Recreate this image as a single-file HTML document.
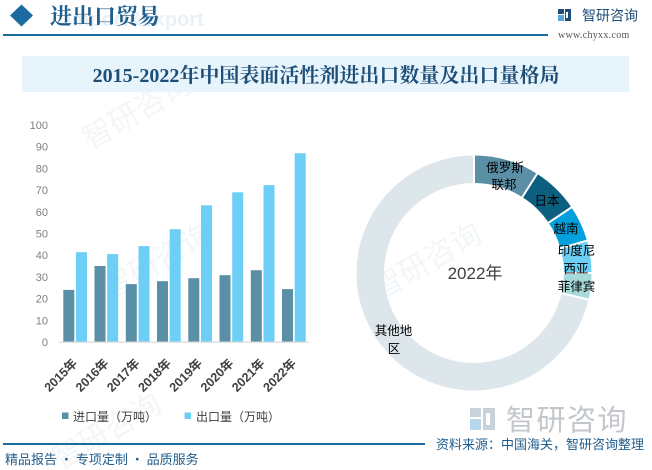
<!DOCTYPE html>
<html><head><meta charset="utf-8"><style>
html,body{margin:0;padding:0;background:#fff;}
svg{display:block;}
</style></head><body>
<svg width="652" height="470" viewBox="0 0 652 470" xmlns="http://www.w3.org/2000/svg" style="font-family:'Liberation Sans','Noto Sans CJK SC',sans-serif;">
<rect width="652" height="470" fill="#fff"/>
<!-- faint watermarks -->
<g fill="#f3f6f8" font-size="30" style="font-family:'Noto Sans CJK SC',sans-serif;">
<text x="90" y="150" transform="rotate(-30 90 150)">智研咨询</text>
<text x="110" y="300" transform="rotate(-30 110 300)">智研咨询</text>
<text x="380" y="300" transform="rotate(-30 380 300)">智研咨询</text>
<text x="60" y="470" transform="rotate(-30 60 470)">智研咨询</text>
</g>
<!-- header -->
<polygon points="21.5,4.5 33,15.5 21.5,26.5 10,15.5" fill="#1b6aa0"/>
<text x="66" y="26" font-size="20" font-weight="bold" fill="#e9f0f6">Import&amp;export</text>
<text x="50" y="24" font-size="22" font-weight="bold" fill="#1f5d8c" style="font-family:'Noto Serif CJK SC',serif;">进出口贸易</text>
<rect x="3" y="34" width="545" height="2" fill="#1b6aa0"/>
<g>
<rect x="558" y="9" width="6" height="5" fill="#1f4e79"/>
<rect x="558" y="15" width="6" height="6" fill="#5aa9dd"/>
<rect x="565" y="9" width="6" height="12" fill="#1f4e79"/>
<rect x="566" y="12" width="2" height="6" fill="#fff"/>
</g>
<text x="582" y="20.5" font-size="14" fill="#1f4e79" style="font-family:'Noto Sans CJK SC',sans-serif;">智研咨询</text>
<text x="558" y="38" font-size="10" fill="#555" letter-spacing="0.3" style="font-family:'Liberation Serif',serif;">www.chyxx.com</text>
<!-- title band -->
<rect x="22" y="56" width="607" height="36" fill="#e8f4fc"/>
<text x="326" y="82" font-size="20" font-weight="bold" fill="#1d4e78" text-anchor="middle" style="font-family:'Liberation Serif','Noto Serif CJK SC',serif;">2015-2022年中国表面活性剂进出口数量及出口量格局</text>
<!-- y axis labels -->
<g font-size="11" fill="#7f7f7f" text-anchor="end">
<text x="48" y="129">100</text>
<text x="48" y="150.7">90</text>
<text x="48" y="172.4">80</text>
<text x="48" y="194.1">70</text>
<text x="48" y="215.8">60</text>
<text x="48" y="237.5">50</text>
<text x="48" y="259.2">40</text>
<text x="48" y="280.9">30</text>
<text x="48" y="302.6">20</text>
<text x="48" y="324.3">10</text>
<text x="48" y="346">0</text>
</g>
<!-- bars -->
<g fill="#5b8fa6">
<rect x="63.3" y="289.9" width="11" height="52.1"/>
<rect x="94.5" y="266.0" width="11" height="76.0"/>
<rect x="125.8" y="284.1" width="11" height="57.9"/>
<rect x="157.0" y="281.2" width="11" height="60.8"/>
<rect x="188.3" y="278.2" width="11" height="63.8"/>
<rect x="219.5" y="275.2" width="11" height="66.8"/>
<rect x="250.8" y="270.2" width="11" height="71.8"/>
<rect x="282.0" y="289.1" width="11" height="52.9"/>
</g>
<g fill="#6dcff6">
<rect x="76" y="252.2" width="11" height="89.8"/>
<rect x="107.2" y="254.1" width="11" height="87.9"/>
<rect x="138.5" y="246.1" width="11" height="95.9"/>
<rect x="169.7" y="229.2" width="11" height="112.8"/>
<rect x="201.0" y="205.3" width="11" height="136.7"/>
<rect x="232.2" y="192.3" width="11" height="149.7"/>
<rect x="263.5" y="185.1" width="11" height="156.9"/>
<rect x="294.7" y="153.2" width="11" height="188.8"/>
</g>
<rect x="59" y="341.5" width="250" height="1.2" fill="#d9d9d9"/>
<!-- x labels -->
<g font-size="12.5" font-weight="bold" fill="#404040" text-anchor="end">
<text transform="translate(78,364) rotate(-45)">2015年</text>
<text transform="translate(109.3,364) rotate(-45)">2016年</text>
<text transform="translate(140.5,364) rotate(-45)">2017年</text>
<text transform="translate(171.8,364) rotate(-45)">2018年</text>
<text transform="translate(203,364) rotate(-45)">2019年</text>
<text transform="translate(234.3,364) rotate(-45)">2020年</text>
<text transform="translate(265.5,364) rotate(-45)">2021年</text>
<text transform="translate(296.8,364) rotate(-45)">2022年</text>
</g>
<!-- legend -->
<rect x="62" y="412.5" width="6.5" height="6.5" fill="#5b8fa6"/>
<text x="73" y="421" font-size="12" fill="#404040">进口量（万吨）</text>
<rect x="184.5" y="412.5" width="6.5" height="6.5" fill="#6dcff6"/>
<text x="196" y="421" font-size="12" fill="#404040">出口量（万吨）</text>
<!-- donut -->
<g fill="none" stroke-width="27.5" transform="rotate(-90 474 273)">
<circle cx="474" cy="273" r="103.75" pathLength="360" stroke="#dde6eb"/>
<circle cx="474" cy="273" r="103.75" pathLength="360" stroke="#5b8fa6" stroke-dasharray="32.5 327.5" stroke-dashoffset="0"/>
<circle cx="474" cy="273" r="103.75" pathLength="360" stroke="#0d5f7f" stroke-dasharray="23.5 336.5" stroke-dashoffset="-32.5"/>
<circle cx="474" cy="273" r="103.75" pathLength="360" stroke="#02a1dd" stroke-dasharray="18 342" stroke-dashoffset="-56"/>
<circle cx="474" cy="273" r="103.75" pathLength="360" stroke="#6dcff6" stroke-dasharray="16 344" stroke-dashoffset="-74"/>
<circle cx="474" cy="273" r="103.75" pathLength="360" stroke="#a6dada" stroke-dasharray="13 347" stroke-dashoffset="-90"/>
</g>
<g stroke="#fff" stroke-width="2">
<line x1="474" y1="184" x2="474" y2="153"/>
<line x1="521.8" y1="197.9" x2="537.9" y2="172.6"/>
<line x1="547.8" y1="223.2" x2="572.7" y2="206.5"/>
<line x1="559.6" y1="248.5" x2="588.4" y2="240.2"/>
<line x1="563" y1="273" x2="593" y2="273"/>
<line x1="560.7" y1="293" x2="590" y2="299.8"/>
</g>
<text x="475" y="279" font-size="17" fill="#404040" text-anchor="middle">2022年</text>
<g font-size="12.5" fill="#000" text-anchor="middle" style="font-family:'Noto Sans CJK SC',sans-serif;">
<text x="505" y="172">俄罗斯</text>
<text x="504" y="189">联邦</text>
<text x="547" y="205">日本</text>
<text x="566" y="233">越南</text>
<text x="576.5" y="255">印度尼</text>
<text x="576" y="273">西亚</text>
<text x="576.5" y="291">菲律宾</text>
<text x="393.5" y="335">其他地</text>
<text x="394" y="353">区</text>
</g>
<!-- bottom right logo -->
<g>
<rect x="470" y="408" width="11" height="9" fill="#c9d2da"/>
<rect x="470" y="419" width="11" height="11" fill="#b7d6ec"/>
<rect x="483" y="408" width="12" height="22" fill="#c9d2da"/>
<rect x="486" y="413" width="4" height="12" fill="#fff"/>
</g>
<text x="506" y="430" font-size="29" fill="#c3c7cb" letter-spacing="1.5" style="font-family:'Noto Sans CJK SC',sans-serif;">智研咨询</text>
<!-- footer -->
<rect x="3" y="443" width="422" height="2" fill="#1b6aa0"/>
<text x="436" y="449" font-size="13" fill="#1f5d8c" style="font-family:'Noto Sans CJK SC',sans-serif;">资料来源：中国海关，智研咨询整理</text>
<text x="5" y="464" font-size="13" fill="#1f5d8c" style="font-family:'Noto Sans CJK SC',sans-serif;">精品报告 · 专项定制 · 品质服务</text>
</svg>
</body></html>
